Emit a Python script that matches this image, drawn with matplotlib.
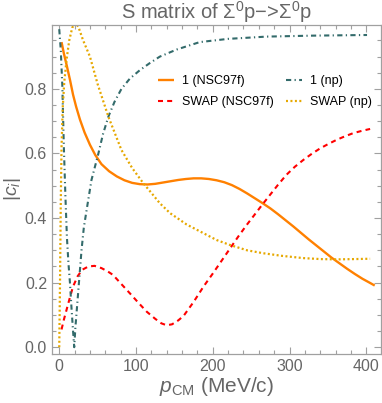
import matplotlib

matplotlib.use("Agg")
import matplotlib.pyplot as plt
from matplotlib.ticker import MultipleLocator

# |c_i|, p_CM in MeV/c
p_nsc_one = [3, 6, 10, 14, 18, 22, 27, 33, 40, 47, 55, 65, 75, 85, 95, 105,
             115, 125, 135, 145, 155, 165, 175, 185, 195, 205, 215, 225, 235,
             245, 255, 265, 275, 285, 295, 305, 315, 325, 335, 345, 355, 365,
             375, 385, 395, 405, 411]
c_nsc_one = [0.945, 0.91, 0.87, 0.828, 0.782, 0.745, 0.705, 0.665, 0.627,
             0.595, 0.567, 0.545, 0.529, 0.517, 0.509, 0.505, 0.504, 0.506,
             0.510, 0.514, 0.518, 0.521, 0.523, 0.523, 0.521, 0.517, 0.511,
             0.502, 0.490, 0.476, 0.461, 0.446, 0.430, 0.412, 0.393, 0.374,
             0.354, 0.334, 0.315, 0.296, 0.277, 0.260, 0.243, 0.227, 0.212,
             0.199, 0.191]

p_nsc_swap = [3, 6, 10, 14, 18, 24, 30, 38, 46, 55, 63, 70, 80, 92, 103, 114,
              125, 133, 140, 147, 155, 162, 175, 188, 200, 211, 222, 233, 244,
              255, 264, 275, 285, 296, 307, 318, 329, 340, 351, 362, 373, 383,
              394, 405]
c_nsc_swap = [0.055, 0.085, 0.12, 0.155, 0.188, 0.22, 0.24, 0.25, 0.252, 0.245,
              0.235, 0.224, 0.198, 0.167, 0.138, 0.110, 0.088, 0.074, 0.068,
              0.071, 0.083, 0.097, 0.140, 0.188, 0.228, 0.266, 0.304, 0.342,
              0.378, 0.412, 0.440, 0.473, 0.503, 0.534, 0.559, 0.580, 0.599,
              0.616, 0.630, 0.643, 0.654, 0.663, 0.670, 0.676]

p_np_one = [0, 2, 4, 6, 8, 10, 12, 14, 16, 18, 19.5, 21, 23, 26, 29, 32, 36,
            42, 51, 57, 64, 72, 81, 92, 105, 118, 131, 153, 183, 220, 270,
            330, 401]
c_np_one = [0.985, 0.92, 0.81, 0.62, 0.47, 0.34, 0.26, 0.198, 0.12, 0.05, 0.0,
            0.06, 0.12, 0.21, 0.30, 0.37, 0.43, 0.518, 0.60, 0.66, 0.714, 0.76,
            0.80, 0.832, 0.858, 0.88, 0.90, 0.922, 0.945, 0.955, 0.962, 0.965,
            0.967]

p_np_swap = [0, 1, 2, 3, 4.5, 6.5, 9.5, 13, 17, 21, 25, 31, 40, 50, 64, 81,
             95, 109.5, 120, 131, 144.5, 155, 166, 188, 205, 222, 245, 266,
             290, 318, 340, 362, 385, 405]
c_np_swap = [0.0, 0.2, 0.45, 0.62, 0.74, 0.82, 0.89, 0.95, 0.99, 1.005, 0.992,
             0.951, 0.90, 0.815, 0.714, 0.611, 0.555, 0.508, 0.478, 0.446,
             0.415, 0.398, 0.38, 0.353, 0.332, 0.317, 0.30, 0.291, 0.283,
             0.276, 0.273, 0.272, 0.273, 0.274]

FRAME = "#a0a0a0"
TEXT = "#666666"

plt.rcParams["font.family"] = ["Liberation Sans", "DejaVu Sans"]
plt.rcParams["mathtext.fontset"] = "custom"
plt.rcParams["mathtext.rm"] = "Liberation Sans"
plt.rcParams["mathtext.it"] = "Liberation Sans:italic"

fig = plt.figure(figsize=(3.82, 4.03), dpi=100)
ax = fig.add_axes([0.136, 0.1216, 0.861, 0.8164])

# order so that the two-column legend reads like the reference
ax.plot(p_nsc_one, c_nsc_one, color="#ff8000", lw=1.7,
        solid_capstyle="butt", label="1 (NSC97f)")
ax.plot(p_nsc_swap, c_nsc_swap, color="#ff0000", lw=1.5,
        dashes=(2.4, 2.0), label="SWAP (NSC97f)")
ax.plot(p_np_one, c_np_one, color="#336b6b", lw=1.5,
        dashes=(2.5, 1.6, 0.6, 1.6), label="1 (np)")
ax.plot(p_np_swap, c_np_swap, color="#e6a800", lw=1.6,
        dashes=(0.9, 1.1), label="SWAP (np)")

ax.set_xlim(-9.5, 419)
ax.set_ylim(-0.021, 0.998)

ax.xaxis.set_major_locator(MultipleLocator(100))
ax.xaxis.set_minor_locator(MultipleLocator(20))
ax.yaxis.set_major_locator(MultipleLocator(0.2))
ax.yaxis.set_minor_locator(MultipleLocator(0.05))
ax.yaxis.set_major_formatter(lambda v, _: f"{v:.1f}")

ax.tick_params(which="both", direction="in", top=True, right=True,
               color=FRAME, width=0.8, labelcolor=TEXT, labelsize=11.5)
ax.tick_params(which="major", length=5)
ax.tick_params(which="minor", length=3)
for s in ax.spines.values():
    s.set_color(FRAME)
    s.set_linewidth(0.9)

ax.set_title("S matrix of Σ$^0$p\u2212>Σ$^0$p", color=TEXT, fontsize=14.5,
             pad=3)
ax.set_xlabel("$p_{\\mathrm{CM}}$ (MeV/c)", color=TEXT, fontsize=15,
              labelpad=1)
ax.set_ylabel("$|c_i|$", color=TEXT, fontsize=14, labelpad=1)

ax.legend(ncol=2, frameon=False, loc="upper left",
          bbox_to_anchor=(0.322, 0.848), borderaxespad=0, borderpad=0,
          fontsize=9, handlelength=1.3, handletextpad=0.6,
          columnspacing=1.0, labelspacing=0.75)

fig.savefig("out.png", dpi=100)
